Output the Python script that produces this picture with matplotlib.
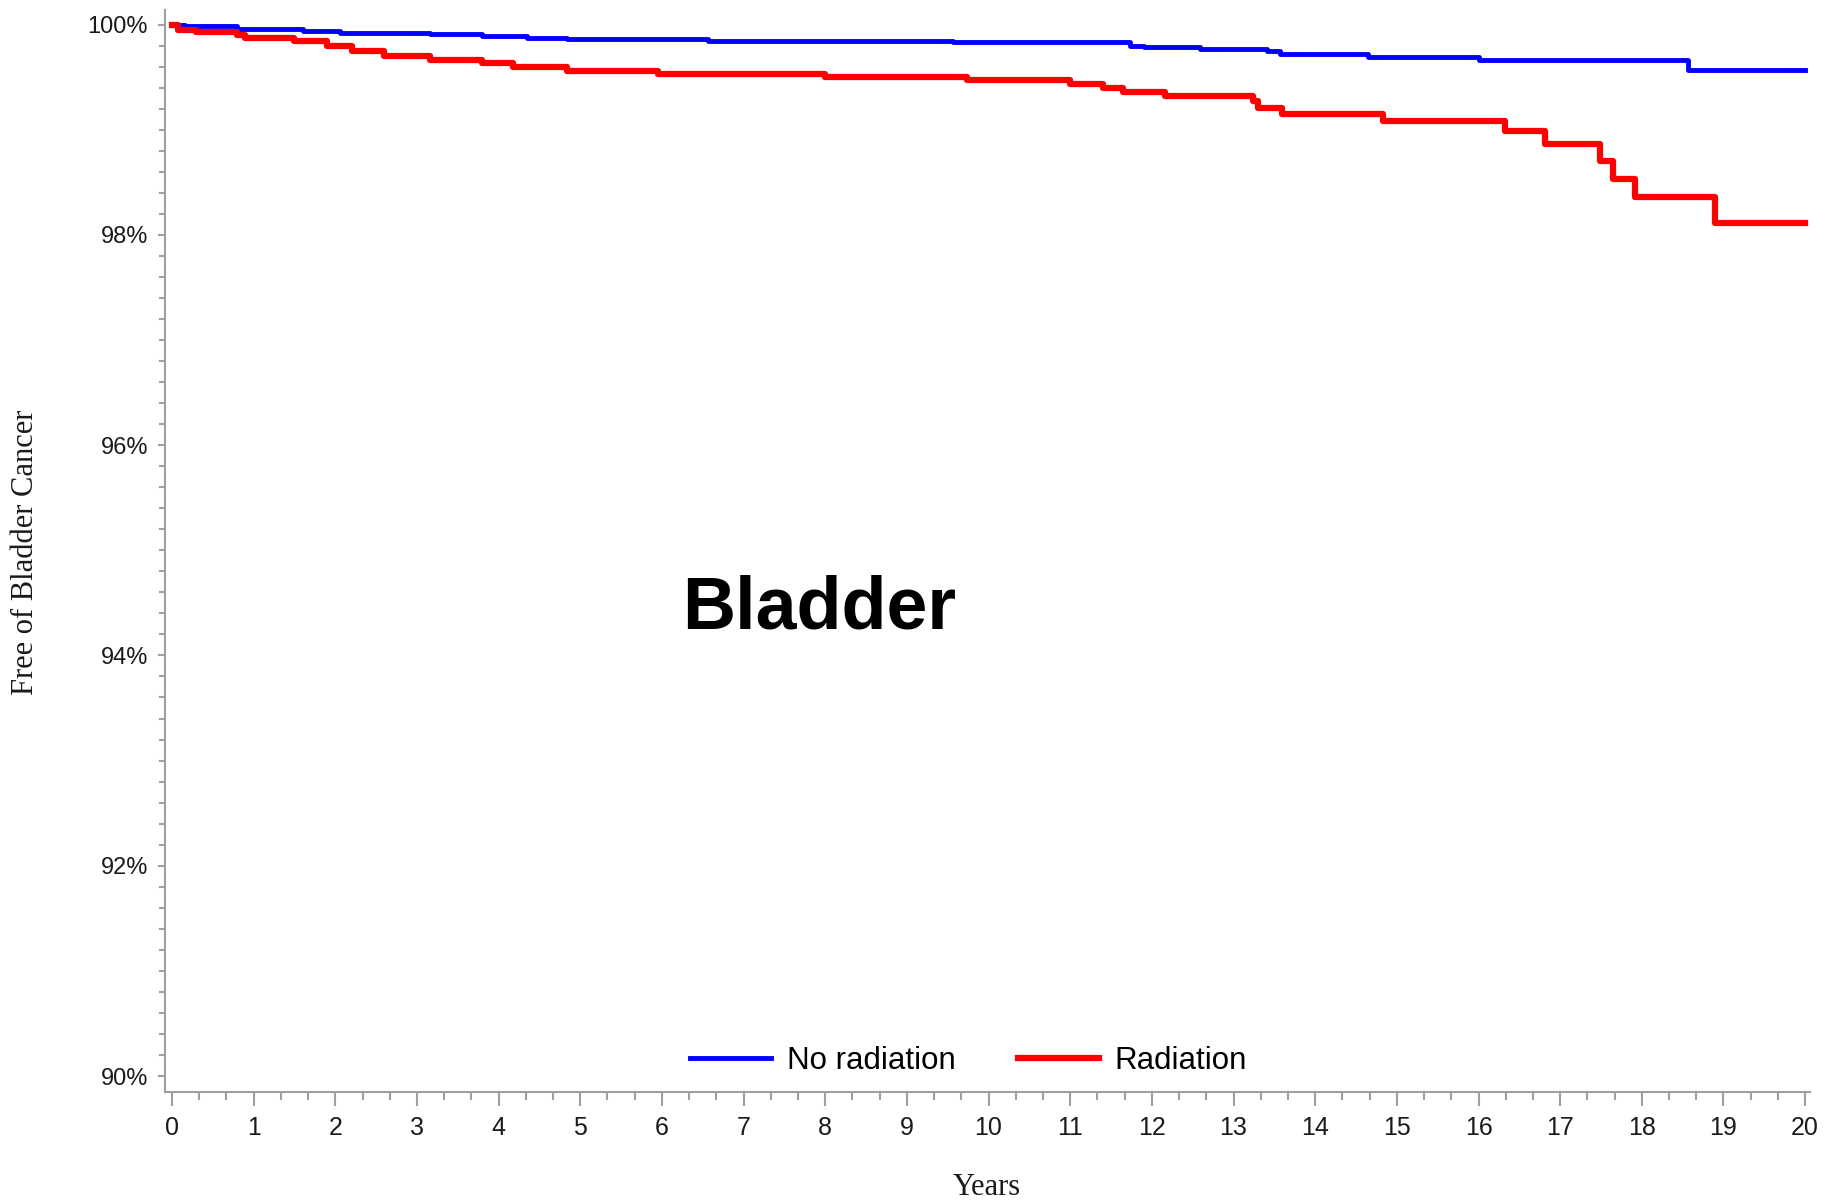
#! /usr/bin/env python

# Kaplan-Meier style curves: freedom from bladder cancer, radiation vs no radiation
import matplotlib
matplotlib.use('Agg')
import matplotlib.pyplot as plt
from matplotlib.ticker import MultipleLocator, FuncFormatter
from matplotlib import font_manager

# values (years, % free of bladder cancer)
no_rad_years = [0.0, 0.16, 0.8, 1.6, 2.06, 3.16, 3.8, 4.35, 4.84, 6.56, 9.57,
                11.73, 11.9, 12.59, 13.41, 13.57, 14.65, 16.0, 18.57, 20.0]
no_rad_free = [100.0, 99.985, 99.96, 99.94, 99.92, 99.905, 99.895, 99.875, 99.86,
               99.84, 99.83, 99.80, 99.785, 99.77, 99.75, 99.72, 99.69, 99.66,
               99.57, 99.57]

rad_years = [0.0, 0.08, 0.3, 0.8, 0.9, 1.5, 1.9, 2.2, 2.6, 3.16, 3.8, 4.18, 4.84,
             5.95, 8.0, 9.74, 11.0, 11.4, 11.65, 12.16, 13.24, 13.3, 13.59, 14.83,
             16.33, 16.82, 17.49, 17.65, 17.92, 18.9, 20.0]
rad_free = [100.0, 99.95, 99.93, 99.90, 99.87, 99.84, 99.80, 99.75, 99.70, 99.66,
            99.635, 99.60, 99.555, 99.525, 99.505, 99.47, 99.435, 99.40, 99.355,
            99.32, 99.27, 99.21, 99.15, 99.085, 98.985, 98.86, 98.70, 98.53, 98.36,
            98.11, 98.11]

series_labels = ['No radiation', 'Radiation']
x_ticks = list(range(0, 21))
y_ticks = [90, 92, 94, 96, 98, 100]

# fonts: narrow sans for the tick labels if it is there
installed = set(f.name for f in font_manager.fontManager.ttflist)
narrow = 'Liberation Sans Narrow' if 'Liberation Sans Narrow' in installed else 'Liberation Sans'
xtick_size = 20 if narrow == 'Liberation Sans Narrow' else 18

fig = plt.figure(figsize=(18.25, 12.04), dpi=100)
ax = fig.add_axes([0.0902, 0.093, 0.9016, 0.8987])

ax.step(no_rad_years, no_rad_free, where='post', color='#0000ff', lw=3.5, label=series_labels[0])
ax.step(rad_years, rad_free, where='post', color='#ff0000', lw=4.5, label=series_labels[1])

ax.set_xlim(-0.09, 20.06)
ax.set_ylim(89.848, 100.138)

ax.set_xticks(x_ticks)
ax.xaxis.set_minor_locator(MultipleLocator(1 / 3))
ax.set_yticks(y_ticks)
ax.yaxis.set_minor_locator(MultipleLocator(0.2))
ax.yaxis.set_major_formatter(FuncFormatter(lambda v, p: '%d%%' % round(v)))

for s in ['top', 'right']:
    ax.spines[s].set_visible(False)
for s in ['left', 'bottom']:
    ax.spines[s].set_color('#a0a0a0')
    ax.spines[s].set_linewidth(1.5)

ax.tick_params(which='both', color='#a0a0a0', width=1.5, labelcolor='#1a1a1a')
ax.tick_params(axis='x', which='major', length=10, pad=7)
ax.tick_params(axis='x', which='minor', length=6)
ax.tick_params(axis='y', which='major', length=5, pad=7)
ax.tick_params(axis='y', which='minor', length=4)

for lab in ax.get_xticklabels():
    lab.set_family(narrow)
    lab.set_fontsize(xtick_size)
for lab in ax.get_yticklabels():
    lab.set_family('Liberation Sans')
    lab.set_fontsize(17)

# axis titles (serif, as in the original)
fig.text(0.014, 0.5415, 'Free of Bladder Cancer', rotation=90, ha='center', va='center',
         family='Liberation Serif', fontsize=22, color='#1a1a1a')
fig.text(0.5408, 0.0135, 'Years', ha='center', va='center',
         family='Liberation Serif', fontsize=22, color='#1a1a1a')

# big panel label
fig.text(0.4488, 0.4784, 'Bladder', ha='center', va='baseline',
         family='Liberation Sans', fontweight='bold', fontsize=53, color='black')

ax.legend(loc='center', bbox_to_anchor=(0.5307, 0.1185), bbox_transform=fig.transFigure,
          ncol=2, frameon=False, handlelength=2.6, handletextpad=0.5, columnspacing=2.0,
          prop={'family': 'Liberation Sans', 'size': 22.5})

fig.savefig('out.png', dpi=100)
